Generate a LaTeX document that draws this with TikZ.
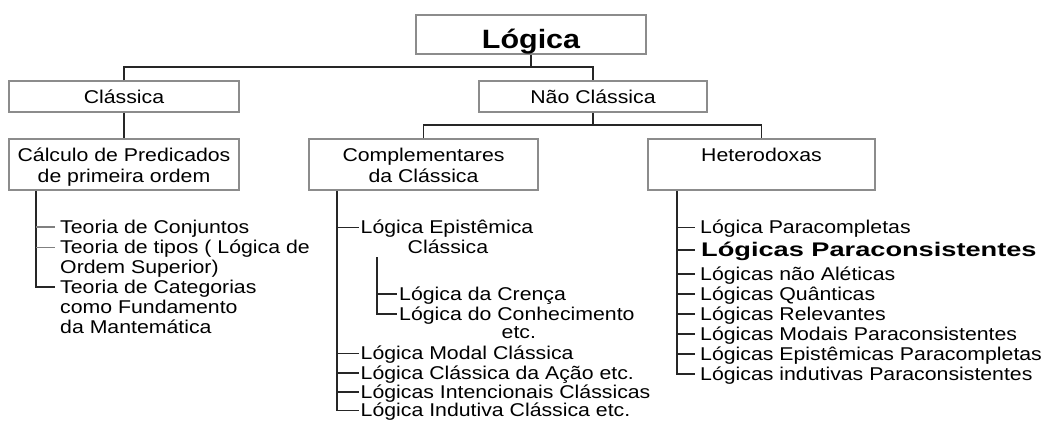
\documentclass[tikz,border=0pt]{standalone}
\usepackage{fontspec}
\setmainfont{Liberation Sans}[FakeStretch=1.15]
\newcommand\nfs{\fontsize{18.5pt}{20pt}\selectfont}
\tikzset{
  box/.style={draw=black!45, line width=1.5pt, fill=white, inner sep=0pt},
  lbl/.style={inner sep=0pt, text height=12.7pt, text depth=0pt, font=\nfs, anchor=west},
  clbl/.style={lbl, anchor=center},
  itm/.style={lbl, inner xsep=#1},
  conn/.style={line width=1.5pt, draw=black!85},
  gtick/.style={line width=1.5pt, draw=black!50},
}
\begin{document}
\begin{tikzpicture}[x=1pt,y=-1pt]
\useasboundingbox (0,0) rectangle (1047,421);
% boxes
\node[box, minimum width=230pt, minimum height=39pt] (logica) at (531,34.5) {};
\node[box, minimum width=230pt, minimum height=31pt] (clas) at (124,96.5) {};
\node[box, minimum width=228pt, minimum height=31pt] (nclas) at (593,96.5) {};
\node[box, minimum width=230pt, minimum height=51pt] (calc) at (124,164.5) {};
\node[box, minimum width=229pt, minimum height=51pt] (comp) at (423.5,164.5) {};
\node[box, minimum width=227pt, minimum height=51pt] (het) at (761.5,164.5) {};
% box labels
\node[clbl, font=\bfseries\fontsize{26.5pt}{28pt}\selectfont, text height=18.2pt] (tlogica) at (531,39) {Lógica};
\node[clbl] (tclas) at (124,97) {Clássica};
\node[clbl] (tnclas) at (593,97) {Não Clássica};
\node[clbl] (tcalc1) at (124,155.5) {Cálculo de Predicados};
\node[clbl] (tcalc2) at (124,176) {de primeira ordem};
\node[clbl] (tcomp1) at (423.5,155.5) {Complementares};
\node[clbl] (tcomp2) at (423.5,176) {da Clássica};
\node[clbl] (thet) at (761.5,155.5) {Heterodoxas};
% tree connectors
\coordinate (j1) at (531,67);
\draw[conn] (logica.south) -- (j1);
\draw[conn] (clas.north) |- (j1) -| (nclas.north);
\draw[conn] (clas.south) -- (calc.north);
\coordinate (j2) at (593,125);
\draw[conn] (nclas.south) -- (j2);
\draw[conn] (comp.north) |- (j2) -| (het.north);
% left list
\node[itm=5pt] (l1) at (55,227) {Teoria de Conjuntos};
\node[itm=5pt] (l2) at (55,247.5) {Teoria de tipos ( Lógica de};
\node[itm=5pt] (l3) at (55,267.5) {Ordem Superior)};
\node[itm=5pt] (l4) at (55,287) {Teoria de Categorias};
\node[itm=5pt] (l5) at (55,307) {como Fundamento};
\node[itm=5pt] (l6) at (55,327) {da Mantemática};
\coordinate (lv) at (36,0);
\draw[conn] (calc.south -| lv) -- (l4.west -| lv) -- (l4.west);
\draw[gtick] (l1.west -| lv) -- (l1.west);
\draw[gtick] (l2.west -| lv) -- (l2.west);
% middle list
\node[itm=1.5pt] (m1) at (359,227.5) {Lógica Epistêmica};
\node[itm=1.5pt] (m1b) at (406,247.5) {Clássica};
\node[itm=2pt] (s1) at (397,294) {Lógica da Crença};
\node[itm=2pt] (s2) at (397,314) {Lógica do Conhecimento};
\node[itm=1.5pt] (s2b) at (500,332) {etc.};
\node[itm=1.5pt] (m2) at (359,353.5) {Lógica Modal Clássica};
\node[itm=1.5pt] (m3) at (359,373) {Lógica Clássica da Ação etc.};
\node[itm=1.5pt] (m4) at (359,392) {Lógicas Intencionais Clássicas};
\node[itm=1.5pt] (m5) at (359,410.5) {Lógica Indutiva Clássica etc.};
\coordinate (mv) at (337,0);
\draw[conn] (comp.south -| mv) -- (m5.west -| mv) -- (m5.west);
\draw[conn] (m1.west -| mv) -- (m1.west);
\draw[conn] (m2.west -| mv) -- (m2.west);
\draw[conn] (m3.west -| mv) -- (m3.west);
\draw[conn] (m4.west -| mv) -- (m4.west);
\coordinate (sv) at (377,257);
\draw[conn] (sv) -- (s2.west -| sv) -- (s2.west);
\draw[conn] (s1.west -| sv) -- (s1.west);
% right list
\node[itm=5pt] (r1) at (695,227.5) {Lógica Paracompletas};
\node[itm=6pt, font=\bfseries\fontsize{19.7pt}{22pt}\selectfont, text height=13.6pt] (r2) at (695,250) {\scalebox{1.2}[1]{Lógicas Paraconsistentes}};
\node[itm=5pt] (r3) at (695,274) {Lógicas não Aléticas};
\node[itm=5pt] (r4) at (695,294) {Lógicas Quânticas};
\node[itm=5pt] (r5) at (695,314) {Lógicas Relevantes};
\node[itm=5pt] (r6) at (695,334) {Lógicas Modais Paraconsistentes};
\node[itm=5pt] (r7) at (695,354) {Lógicas Epistêmicas Paracompletas};
\node[itm=5pt] (r8) at (695,374) {Lógicas indutivas Paraconsistentes};
\coordinate (rv) at (677,0);
\draw[conn] (het.south -| rv) -- (r8.west -| rv) -- (r8.west);
\foreach \n in {r1,r2,r3,r4,r5,r6,r7} \draw[conn] (\n.west -| rv) -- (\n.west);
\end{tikzpicture}
\end{document}
